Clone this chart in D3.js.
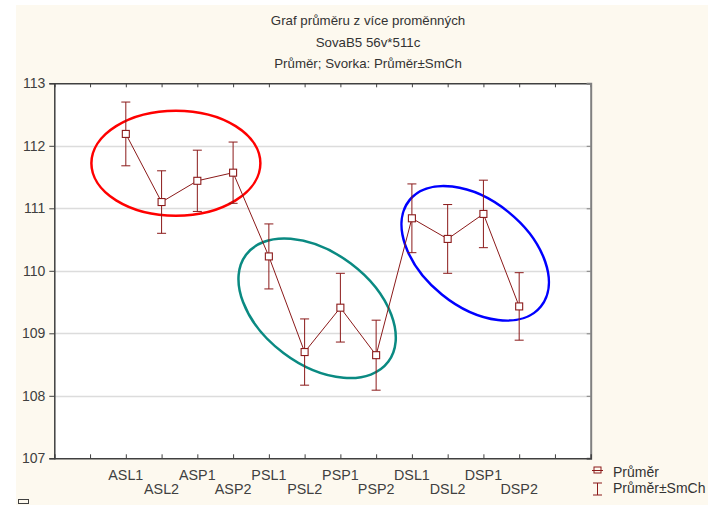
<!DOCTYPE html>
<html>
<head>
<meta charset="utf-8">
<script src="https://cdn.jsdelivr.net/npm/d3@7/dist/d3.min.js"></script>
<style>
  html, body { margin: 0; padding: 0; background: #ffffff; }
  svg { display: block; }
  text { font-family: "Liberation Sans", Arial, sans-serif; }
</style>
</head>
<body>
<svg id="chart" width="708" height="505"></svg>
<script>
// Variables (categories) and their means with standard errors
const categories = ["ASL1","ASL2","ASP1","ASP2","PSL1","PSL2","PSP1","PSP2","DSL1","DSL2","DSP1","DSP2"];
const means  = [112.19, 111.10, 111.44, 111.57, 110.23, 108.70, 109.41, 108.65, 110.84, 110.51, 110.91, 109.43];
const stdErr = [0.51, 0.50, 0.49, 0.49, 0.52, 0.53, 0.55, 0.56, 0.55, 0.55, 0.54, 0.54];
const yTicks = [107, 108, 109, 110, 111, 112, 113];
const titleLines = ["Graf průměru z více proměnných", "SovaB5 56v*511c", "Průměr; Svorka: Průměr±SmCh"];
const legendLabels = ["Průměr", "Průměr±SmCh"];

// Highlight ellipses: centre in data units (slot index, value)
const groupCentres = [[3.40, 111.72], [7.35, 109.40], [11.77, 110.28]];
const groupColors  = ["#ff0000", "#0a8a82", "#0000ff"];

const svg = d3.select("#chart");
const W = 708, H = 505;
const plot = { left: 54.3, right: 590.7, top: 83.3, bottom: 458.3 };

const lineColor = "#8b1a1a";
const axisColor = "#404040";

// Figure background
svg.append("rect").attr("x", 0).attr("y", 0).attr("width", W).attr("height", H).attr("fill", "#ffffff");
svg.append("rect").attr("x", 16).attr("y", 5).attr("width", W - 16).attr("height", H - 5).attr("fill", "#fdf9ef");

// Scales: categories occupy slots 2..13 of a 0..15 axis
const x = d3.scaleLinear().domain([0, 15]).range([plot.left, plot.right]);
const y = d3.scaleLinear().domain([107, 113]).range([plot.bottom, plot.top]);
const slot = i => i + 2;

// Plot area
svg.append("rect")
  .attr("x", plot.left).attr("y", plot.top)
  .attr("width", plot.right - plot.left).attr("height", plot.bottom - plot.top)
  .attr("fill", "#ffffff");

// Horizontal gridlines
svg.append("g").selectAll("line")
  .data(yTicks.filter(t => t > 107 && t < 113))
  .join("line")
  .attr("x1", plot.left).attr("x2", plot.right)
  .attr("y1", d => Math.round(y(d)) + 0.5).attr("y2", d => Math.round(y(d)) + 0.5)
  .attr("stroke", "#dcdcdc").attr("stroke-width", 1.5);

// Titles
svg.append("g").selectAll("text")
  .data(titleLines)
  .join("text")
  .attr("x", 368).attr("y", (d, i) => 25 + i * 21.5)
  .attr("text-anchor", "middle")
  .attr("font-size", 13.3)
  .attr("fill", "#333333")
  .text(d => d);

// Axes
const xTickVals = d3.range(1, 15);
const leftAxis = d3.axisLeft(y).tickValues(yTicks).tickSize(5).tickPadding(4).tickFormat(d3.format("d"));
const rightAxis = d3.axisRight(y).tickValues(yTicks).tickSize(-4).tickFormat("");
const topAxis = d3.axisTop(x).tickValues(xTickVals).tickSize(-4).tickFormat("");
const bottomAxis = d3.axisBottom(x).tickValues(xTickVals).tickSize(-4).tickFormat("");

const gTop = svg.append("g").attr("transform", `translate(0,${plot.top})`).call(topAxis);
const gRight = svg.append("g").attr("transform", `translate(${plot.right},0)`).call(rightAxis);
const gBottom = svg.append("g").attr("transform", `translate(0,${plot.bottom})`).call(bottomAxis);
const gLeft = svg.append("g").attr("transform", `translate(${plot.left},0)`).call(leftAxis);

[gTop, gBottom, gLeft].forEach(g => {
  g.select(".domain").attr("stroke", axisColor).attr("stroke-width", 1.5);
  g.selectAll(".tick line").attr("stroke", axisColor);
});
gRight.select(".domain").attr("stroke", "#808080").attr("stroke-width", 2);
gRight.selectAll(".tick line").attr("stroke", "#808080");
gLeft.selectAll(".tick text")
  .attr("font-size", 14).attr("fill", "#404040")
  .attr("font-family", "Liberation Sans, Arial, sans-serif");

// Category labels, staggered over two rows
svg.append("g").selectAll("text")
  .data(categories)
  .join("text")
  .attr("x", (d, i) => x(slot(i)))
  .attr("y", (d, i) => (i % 2 === 0 ? 480 : 494))
  .attr("text-anchor", "middle")
  .attr("font-size", 14.3)
  .attr("fill", "#404040")
  .text(d => d);

// Group ellipses: radii in px, rotation in degrees
const ellipseShapes = [
  { rx: 84.5, ry: 52.5, rot: 0 },
  { rx: 89, ry: 56, rot: 37 },
  { rx: 84.5, ry: 53, rot: 39 }
];
svg.append("g").selectAll("ellipse")
  .data(groupCentres)
  .join("ellipse")
  .attr("transform", (d, i) => `translate(${x(d[0])},${y(d[1])}) rotate(${ellipseShapes[i].rot})`)
  .attr("rx", (d, i) => ellipseShapes[i].rx)
  .attr("ry", (d, i) => ellipseShapes[i].ry)
  .attr("fill", "none")
  .attr("stroke", (d, i) => groupColors[i])
  .attr("stroke-width", 2.5);

// Mean line
const pts = means.map((m, i) => [x(slot(i)), y(m)]);
svg.append("path")
  .attr("d", d3.line()(pts))
  .attr("fill", "none")
  .attr("stroke", lineColor)
  .attr("stroke-width", 1);

// Error bars (mean ± SE)
const eb = svg.append("g").attr("stroke", lineColor).attr("stroke-width", 1);
means.forEach((m, i) => {
  const cx = x(slot(i));
  const y0 = y(m + stdErr[i]), y1 = y(m - stdErr[i]);
  eb.append("line").attr("x1", cx).attr("x2", cx).attr("y1", y0).attr("y2", y1);
  eb.append("line").attr("x1", cx - 4.5).attr("x2", cx + 4.5).attr("y1", y0).attr("y2", y0);
  eb.append("line").attr("x1", cx - 4.5).attr("x2", cx + 4.5).attr("y1", y1).attr("y2", y1);
});

// Mean markers
svg.append("g").selectAll("rect")
  .data(means)
  .join("rect")
  .attr("x", (d, i) => x(slot(i)) - 3.5)
  .attr("y", d => y(d) - 3.5)
  .attr("width", 7).attr("height", 7)
  .attr("fill", "#ffffff")
  .attr("stroke", lineColor)
  .attr("stroke-width", 1.1);

// Legend
const lg = svg.append("g");
lg.append("line").attr("x1", 592).attr("x2", 603).attr("y1", 470.5).attr("y2", 470.5)
  .attr("stroke", lineColor);
lg.append("rect").attr("x", 594).attr("y", 467).attr("width", 7).attr("height", 6)
  .attr("fill", "none").attr("stroke", lineColor);
lg.append("line").attr("x1", 597.5).attr("x2", 597.5).attr("y1", 483).attr("y2", 495)
  .attr("stroke", lineColor);
lg.append("line").attr("x1", 593).attr("x2", 602).attr("y1", 483).attr("y2", 483)
  .attr("stroke", lineColor);
lg.append("line").attr("x1", 593).attr("x2", 602).attr("y1", 495).attr("y2", 495)
  .attr("stroke", lineColor);
lg.selectAll("text")
  .data(legendLabels)
  .join("text")
  .attr("x", 613)
  .attr("y", (d, i) => 477 + i * 16)
  .attr("font-size", 14)
  .attr("fill", "#333333")
  .text(d => d);

// Small frame marker in the corner
svg.append("rect").attr("x", 18.5).attr("y", 499.5).attr("width", 10).attr("height", 4)
  .attr("fill", "none").attr("stroke", "#404040");
</script>
</body>
</html>
